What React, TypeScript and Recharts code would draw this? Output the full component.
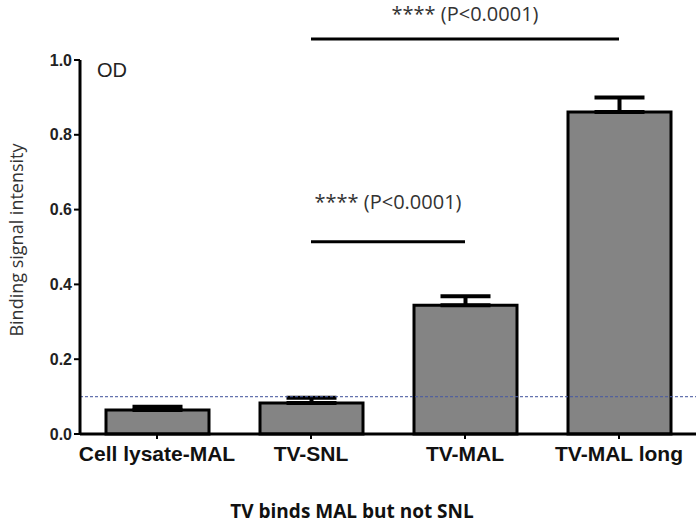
import React from 'react';
import {
  BarChart,
  Bar,
  XAxis,
  YAxis,
  ErrorBar,
  ReferenceLine,
} from 'recharts';

const categories = ['Cell lysate-MAL', 'TV-SNL', 'TV-MAL', 'TV-MAL long'];
const means = [0.064, 0.083, 0.344, 0.861];
const errUp = [0.009, 0.014, 0.024, 0.039];
const yTicks = [0, 0.2, 0.4, 0.6, 0.8, 1.0];
const cutoff = 0.1;
const sigLabel = '**** (P<0.0001)';

const data = categories.map((name, i) => ({
  name,
  od: means[i],
  err: [0, errUp[i]],
}));

const calibriLike = '"Open Sans", "Noto Sans", sans-serif';
const arial = '"Liberation Sans", Arial, sans-serif';

export default function App() {
  return (
    <div style={{ position: 'absolute', left: 0, top: 0, width: 700, height: 529, background: '#fff' }}>
      <BarChart
        width={700}
        height={529}
        data={data}
        margin={{ top: 60, right: 4, bottom: 0, left: 0 }}
      >
        <XAxis
          dataKey="name"
          height={95}
          interval={0}
          axisLine={{ stroke: '#000', strokeWidth: 3 }}
          tickLine={{ stroke: '#000', strokeWidth: 2 }}
          tickSize={5}
          tick={{ fill: '#111', fontSize: 21, fontWeight: 'bold', fontFamily: arial, dy: 5 }}
        />
        <YAxis
          width={80}
          domain={[0, 1]}
          ticks={yTicks}
          tickFormatter={(v: number) => v.toFixed(1)}
          axisLine={{ stroke: '#000', strokeWidth: 3 }}
          tickLine={{ stroke: '#000', strokeWidth: 2 }}
          tickSize={6}
          tick={{ fill: '#222', fontSize: 16, fontWeight: 'bold', fontFamily: arial }}
        />
        <Bar
          dataKey="od"
          barSize={103}
          fill="#848484"
          stroke="#000"
          strokeWidth={3}
          isAnimationActive={false}
        >
          <ErrorBar dataKey="err" width={25} stroke="#000" strokeWidth={4} direction="y" />
        </Bar>
        <ReferenceLine
          y={cutoff}
          stroke="#4a5aa0"
          strokeOpacity={0.85}
          strokeDasharray="3 2"
          strokeWidth={1.2}
        />
        <ReferenceLine
          segment={[{ x: 'TV-SNL', y: 1.056 }, { x: 'TV-MAL long', y: 1.056 }]}
          stroke="#000"
          strokeWidth={3}
          ifOverflow="visible"
          label={{
            value: sigLabel,
            position: 'top',
            offset: 18,
            style: { fill: '#333', fontSize: 20, fontFamily: calibriLike },
          }}
        />
        <ReferenceLine
          segment={[{ x: 'TV-SNL', y: 0.514 }, { x: 'TV-MAL', y: 0.514 }]}
          stroke="#000"
          strokeWidth={3}
          ifOverflow="visible"
          label={{
            value: sigLabel,
            position: 'top',
            offset: 33,
            style: { fill: '#333', fontSize: 20, fontFamily: calibriLike },
          }}
        />
        <text x={97} y={77} fill="#222" fontSize={20} fontFamily={arial}>
          OD
        </text>
        <text
          x={16}
          y={240}
          transform="rotate(-90 16 240)"
          textAnchor="middle"
          dominantBaseline="central"
          fill="#333"
          fontSize={18}
          fontFamily={calibriLike}
        >
          Binding signal intensity
        </text>
        <text
          x={352}
          y={518}
          textAnchor="middle"
          fill="#111"
          fontSize={19}
          fontWeight="bold"
          fontFamily={calibriLike}
        >
          TV binds MAL but not SNL
        </text>
      </BarChart>
    </div>
  );
}
